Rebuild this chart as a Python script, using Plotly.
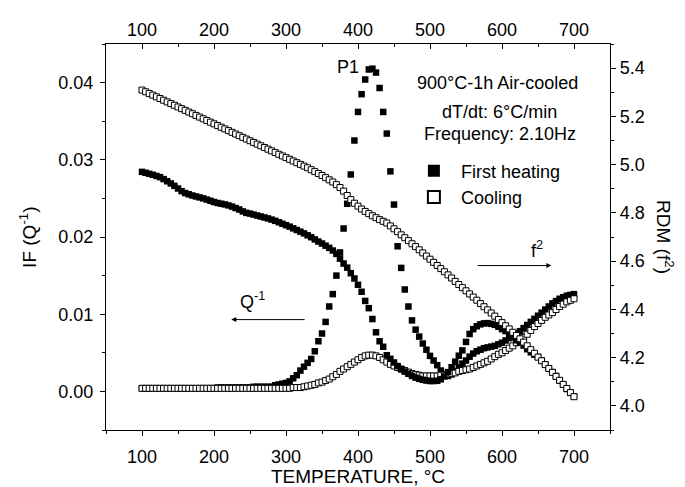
import plotly.graph_objects as go

# Temperature (deg C), sampled every 5 degrees
temperature = list(range(100, 701, 5))

# Internal friction Q^-1, first heating (filled squares)
if_heating = [
    0.0004, 0.0004, 0.0004, 0.0004, 0.0004, 0.0004, 0.0004, 0.0004, 0.0004, 0.0004,
    0.0004, 0.0004, 0.0004, 0.0004, 0.0004, 0.0004, 0.0004, 0.0004, 0.0004, 0.0004,
    0.0004, 0.0005, 0.0005, 0.0005, 0.0005, 0.0005, 0.0005, 0.0005, 0.0005, 0.0005,
    0.0005, 0.0006, 0.0006, 0.0006, 0.0006, 0.0006, 0.0006, 0.0008, 0.0009, 0.0010,
    0.0011, 0.0013, 0.0017, 0.0021, 0.0027, 0.0032, 0.0037, 0.0042, 0.0052, 0.0065,
    0.0075, 0.0090, 0.0110, 0.0126, 0.0150, 0.0180, 0.0211, 0.0243, 0.0281, 0.0325,
    0.0362, 0.0385, 0.0404, 0.0417, 0.0418, 0.0413, 0.0393, 0.0362, 0.0334, 0.0285,
    0.0242, 0.0188, 0.0160, 0.0132, 0.0110, 0.0092, 0.0080, 0.0071, 0.0062, 0.0054,
    0.0046, 0.0040, 0.0034, 0.0027, 0.0022, 0.0020, 0.0022, 0.0026, 0.0031, 0.0036,
    0.0040, 0.0045, 0.0049, 0.0052, 0.0054, 0.0056, 0.0057, 0.0058, 0.0059, 0.0061,
    0.0063, 0.0066, 0.0069, 0.0072, 0.0075, 0.0078, 0.0082, 0.0086, 0.0090, 0.0094,
    0.0098, 0.0102, 0.0106, 0.0110, 0.0114, 0.0117, 0.0120, 0.0122, 0.0124, 0.0125,
    0.0126,
]

# Internal friction Q^-1, cooling (open squares)
if_cooling = [
    0.0004, 0.0004, 0.0004, 0.0004, 0.0004, 0.0004, 0.0004, 0.0004, 0.0004, 0.0004,
    0.0004, 0.0004, 0.0004, 0.0004, 0.0004, 0.0004, 0.0004, 0.0004, 0.0004, 0.0004,
    0.0004, 0.0004, 0.0004, 0.0004, 0.0004, 0.0004, 0.0004, 0.0004, 0.0004, 0.0004,
    0.0004, 0.0004, 0.0004, 0.0004, 0.0004, 0.0004, 0.0004, 0.0004, 0.0004, 0.0004,
    0.0004, 0.0004, 0.0005, 0.0005, 0.0005, 0.0006, 0.0007, 0.0008, 0.0009, 0.0011,
    0.0012, 0.0014, 0.0016, 0.0019, 0.0022, 0.0026, 0.0029, 0.0032, 0.0035, 0.0038,
    0.0041, 0.0044, 0.0046, 0.0047, 0.0047, 0.0046, 0.0044, 0.0041, 0.0038, 0.0035,
    0.0033, 0.0031, 0.0029, 0.0027, 0.0025, 0.0023, 0.0022, 0.0021, 0.0020, 0.0020,
    0.0020, 0.0020, 0.0020, 0.0021, 0.0021, 0.0022, 0.0023, 0.0024, 0.0026, 0.0027,
    0.0028, 0.0029, 0.0031, 0.0033, 0.0035, 0.0037, 0.0039, 0.0042, 0.0045, 0.0048,
    0.0050, 0.0053, 0.0056, 0.0059, 0.0063, 0.0066, 0.0070, 0.0074, 0.0079, 0.0084,
    0.0088, 0.0092, 0.0096, 0.0099, 0.0102, 0.0106, 0.0110, 0.0113, 0.0116, 0.0118,
    0.0120,
]

# Relative dynamic modulus f^2, first heating (filled squares)
rdm_heating = [
    4.970, 4.966, 4.962, 4.958, 4.953, 4.948, 4.940, 4.931, 4.922, 4.912,
    4.901, 4.890, 4.882, 4.877, 4.872, 4.868, 4.864, 4.860, 4.855, 4.850,
    4.845, 4.841, 4.838, 4.835, 4.831, 4.826, 4.820, 4.814, 4.806, 4.800,
    4.797, 4.793, 4.789, 4.785, 4.781, 4.777, 4.772, 4.767, 4.761, 4.755,
    4.749, 4.743, 4.736, 4.729, 4.722, 4.715, 4.707, 4.699, 4.690, 4.681,
    4.673, 4.664, 4.655, 4.644, 4.630, 4.610, 4.590, 4.573, 4.550, 4.528,
    4.502, 4.473, 4.435, 4.405, 4.360, 4.305, 4.268, 4.245, 4.210, 4.195,
    4.180, 4.165, 4.152, 4.142, 4.133, 4.124, 4.117, 4.112, 4.108, 4.105,
    4.103, 4.103, 4.104, 4.110, 4.122, 4.140, 4.160, 4.183, 4.208, 4.230,
    4.265, 4.298, 4.318, 4.330, 4.338, 4.342, 4.343, 4.340, 4.336, 4.328,
    4.318, 4.310, 4.298, 4.285, 4.272, 4.263, 4.250, 4.235, 4.222, 4.212,
    4.203, 4.188, 4.172, 4.156, 4.140, 4.124, 4.105, 4.088, 4.070, 4.055,
    4.040,
]

# Relative dynamic modulus f^2, cooling (open squares)
rdm_cooling = [
    5.309, 5.302, 5.295, 5.288, 5.281, 5.274, 5.267, 5.260, 5.253, 5.246,
    5.239, 5.232, 5.225, 5.218, 5.211, 5.204, 5.197, 5.190, 5.183, 5.176,
    5.169, 5.162, 5.155, 5.148, 5.141, 5.134, 5.127, 5.120, 5.113, 5.106,
    5.099, 5.092, 5.085, 5.078, 5.071, 5.064, 5.057, 5.050, 5.043, 5.036,
    5.029, 5.022, 5.015, 5.008, 5.001, 4.994, 4.987, 4.979, 4.971, 4.963,
    4.955, 4.946, 4.937, 4.928, 4.917, 4.905, 4.890, 4.872, 4.855, 4.840,
    4.828, 4.816, 4.806, 4.797, 4.788, 4.780, 4.772, 4.765, 4.758, 4.746,
    4.734, 4.722, 4.709, 4.697, 4.685, 4.672, 4.660, 4.647, 4.634, 4.621,
    4.608, 4.595, 4.582, 4.569, 4.556, 4.543, 4.530, 4.516, 4.503, 4.490,
    4.477, 4.464, 4.451, 4.438, 4.424, 4.411, 4.398, 4.385, 4.372, 4.358,
    4.345, 4.332, 4.319, 4.305, 4.292, 4.278, 4.264, 4.249, 4.233, 4.218,
    4.202, 4.187, 4.171, 4.155, 4.139, 4.122, 4.106, 4.089, 4.072, 4.055,
    4.038,
]

FONT = "Liberation Sans, Arial, sans-serif"
filled = dict(symbol="square", size=6.5, color="black", line=dict(width=0))
hollow = dict(symbol="square", size=6, color="white", line=dict(color="black", width=1))

fig = go.Figure()
fig.add_trace(go.Scatter(x=temperature, y=if_heating, mode="markers", name="First heating",
                         marker=filled, xaxis="x", yaxis="y"))
fig.add_trace(go.Scatter(x=temperature, y=rdm_heating, mode="markers", name="RDM heating",
                         marker=filled, showlegend=False, xaxis="x2", yaxis="y2"))
fig.add_trace(go.Scatter(x=temperature, y=if_cooling, mode="markers", name="Cooling",
                         marker=hollow, xaxis="x", yaxis="y"))
fig.add_trace(go.Scatter(x=temperature, y=rdm_cooling, mode="markers", name="RDM cooling",
                         marker=hollow, showlegend=False, xaxis="x2", yaxis="y2"))

axis_common = dict(showline=True, linecolor="black", linewidth=1.2, showgrid=False,
                   zeroline=False, tickcolor="black", tickwidth=1.2,
                   tickfont=dict(size=18, family=FONT, color="black"))

fig.update_layout(
    width=685, height=487,
    margin=dict(l=98, r=83, t=28, b=65),
    paper_bgcolor="white", plot_bgcolor="white",
    font=dict(family=FONT, color="black", size=18),
    xaxis=dict(range=[50, 750], tickmode="linear", tick0=100, dtick=100,
               ticks="outside", ticklen=5, ticklabelstandoff=5,
               minor=dict(ticks="outside", ticklen=3, tick0=50, dtick=100,
                          tickcolor="black", tickwidth=1.2),
               **axis_common),
    xaxis2=dict(range=[50, 750], overlaying="x", side="top", anchor="y2",
                tickmode="linear", tick0=100, dtick=100, ticks="inside", ticklen=5,
                minor=dict(ticks="inside", ticklen=3, tick0=50, dtick=100,
                           tickcolor="black", tickwidth=1.2),
                **axis_common),
    yaxis=dict(range=[-0.005, 0.045], tickmode="linear", tick0=0, dtick=0.01,
               tickformat=".2f", ticks="outside", ticklen=5, ticklabelstandoff=3,
               minor=dict(ticks="outside", ticklen=3, tick0=-0.005, dtick=0.01,
                          tickcolor="black", tickwidth=1.2),
               **axis_common),
    yaxis2=dict(range=[3.9, 5.5], overlaying="y", side="right", anchor="x2",
                tickmode="linear", tick0=4.0, dtick=0.2, tickformat=".1f",
                ticks="outside", ticklen=5,
                minor=dict(ticks="outside", ticklen=3, tick0=3.9, dtick=0.2,
                           tickcolor="black", tickwidth=1.2),
                **axis_common),
    showlegend=True,
    legend=dict(x=0.597, y=0.719, xanchor="left", yanchor="top",
                bgcolor="rgba(0,0,0,0)", borderwidth=0,
                font=dict(size=18, family=FONT, color="black"),
                itemsizing="constant", itemwidth=44, traceorder="normal"),
)

annotations = [
    # axis titles
    dict(text="TEMPERATURE, °C", xref="paper", yref="paper", x=0.5, y=-0.121,
         xanchor="center", yanchor="middle", showarrow=False, font=dict(size=19)),
    dict(text="IF (Q<sup>-1</sup>)", xref="paper", yref="paper", x=-0.155, y=0.5,
         xanchor="center", yanchor="middle", textangle=-90, showarrow=False,
         font=dict(size=19)),
    dict(text="RDM (f<sup>2</sup>)", xref="paper", yref="paper", x=1.109, y=0.5,
         xanchor="center", yanchor="middle", textangle=90, showarrow=False,
         font=dict(size=19)),
    # info text
    dict(text="900°C-1h Air-cooled", xref="x", yref="y", x=594, y=0.0399,
         showarrow=False, font=dict(size=18)),
    dict(text="dT/dt: 6°C/min", xref="x", yref="y", x=597, y=0.0362,
         showarrow=False, font=dict(size=18)),
    dict(text="Frequency: 2.10Hz", xref="x", yref="y", x=597, y=0.0333,
         showarrow=False, font=dict(size=18)),
    dict(text="P1", xref="x", yref="y", x=386, y=0.0420, showarrow=False,
         font=dict(size=18)),
    dict(text="Q<sup>-1</sup>", xref="x", yref="y", x=253, y=0.0118, showarrow=False,
         font=dict(size=18)),
    dict(text="f<sup>2</sup>", xref="x", yref="y", x=649, y=0.0184, showarrow=False,
         font=dict(size=18)),
    # arrows
    dict(text="", x=224, y=0.0093, ax=328, ay=0.0093, xref="x", yref="y",
         axref="x", ayref="y", showarrow=True, arrowhead=2, arrowsize=1,
         arrowwidth=1, arrowcolor="black"),
    dict(text="", x=668.5, y=0.0163, ax=564, ay=0.0163, xref="x", yref="y",
         axref="x", ayref="y", showarrow=True, arrowhead=2, arrowsize=1,
         arrowwidth=1, arrowcolor="black"),
]
fig.update_layout(annotations=annotations)

fig.write_html("out.html")
